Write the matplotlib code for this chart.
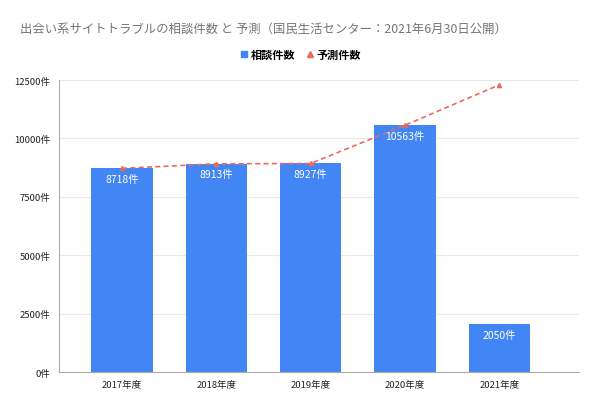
import matplotlib
matplotlib.use("Agg")
import matplotlib.pyplot as plt
from matplotlib.lines import Line2D

plt.rcParams['font.family'] = ['Noto Sans CJK JP', 'DejaVu Sans']

categories = ["2017年度", "2018年度", "2019年度", "2020年度", "2021年度"]
consult = [8718, 8913, 8927, 10563, 2050]
forecast = [8718, 8913, 8927, 10563, 12290]
yticks = [0, 2500, 5000, 7500, 10000, 12500]

fig = plt.figure(figsize=(6, 4.1), dpi=100)
ax = fig.add_axes([0.0983, 0.0902, 0.8667, 0.7122])
x = list(range(len(categories)))
ax.bar(x, consult, width=0.65, color="#4285F4", zorder=2)
ax.plot(x, forecast, linestyle=(0, (3, 2)), color="#EA6A5E", lw=1.2,
        marker="^", markersize=3, zorder=3)
for xi, v in zip(x, consult):
    ax.text(xi, v - 230, f"{v}件", ha="center", va="top", color="white",
            fontsize=7.5, zorder=4)

ax.set_ylim(0, 12500)
ax.set_xlim(-0.668, 4.846)
ax.set_yticks(yticks)
ax.set_yticklabels([f"{t}件" for t in yticks], fontsize=6.8, color="#222222")
ax.set_xticks(x)
ax.set_xticklabels(categories, fontsize=6.8, color="#222222")
ax.tick_params(length=0, pad=6)
ax.grid(axis="y", color="#e8e8e8", lw=0.8, zorder=0)
for s in ["top", "right"]:
    ax.spines[s].set_visible(False)
for s in ["left", "bottom"]:
    ax.spines[s].set_color("#aaaaaa")
    ax.spines[s].set_linewidth(0.8)

fig.text(20/600, 1 - 29/410, "出会い系サイトトラブルの相談件数 と 予測（国民生活センター：2021年6月30日公開）",
         fontsize=8.9, color="#757575", va="center", ha="left")

handles = [Line2D([], [], marker="s", color="#4285F4", linestyle="none", markersize=4),
           Line2D([], [], marker="^", color="#EA6A5E", linestyle="none", markersize=4)]
fig.legend(handles, ["相談件数", "予測件数"], loc="center", bbox_to_anchor=(300/600, 1 - 55/410),
           ncol=2, frameon=False, prop={"weight": "bold", "size": 8},
           handletextpad=0.1, columnspacing=0.8, handlelength=1.0)

fig.savefig("out.png", dpi=100)
